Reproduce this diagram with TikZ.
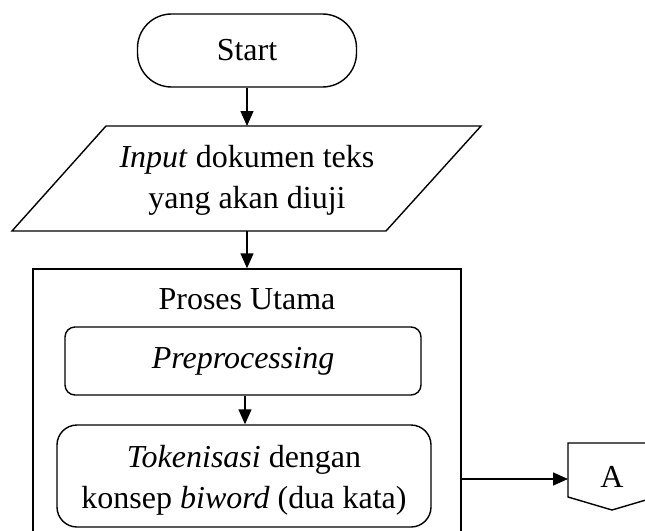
\documentclass[tikz,border=0pt]{standalone}
\usepackage{fontspec}
\setmainfont{Liberation Serif}
\usetikzlibrary{arrows.meta}
\begin{document}
\begin{tikzpicture}[x=1pt,y=-1pt,
  line/.style={line width=1.4pt,line join=miter},
  arr/.style={line width=1.4pt,-{Triangle[length=15pt,width=13pt]}},
  txt/.style={font=\fontsize{32}{41}\selectfont,align=center,inner sep=0pt},
  terminal/.style={draw,line width=1.4pt,minimum width=219pt,minimum height=73pt,rounded corners=34pt,inner sep=0pt},
  procbox/.style={draw,line width=1.4pt,inner sep=0pt}]
\useasboundingbox (0,0) rectangle (645,530);
\clip (0,0) rectangle (645,530);
\fill[white] (0,0) rectangle (645,530);

% Start
\node[terminal,txt] (start) at (247,50.5) {Start};

% Input parallelogram
\draw[line] (106,126) -- (481,126) -- (386,231) -- (12,231) -- cycle;
\coordinate (inpT) at (247,126);
\coordinate (inpB) at (247,231);
\node[txt] (inp) at (247,180) {\textit{Input} dokumen teks\\yang akan diuji};

% Outer box
\node[procbox,minimum width=428pt,minimum height=276pt] (main) at (247,407) {};
\node[txt] (title) at (247,299) {Proses Utama};

% Preprocessing
\node[procbox,rounded corners=10pt,minimum width=356pt,minimum height=68pt] (prep) at (243,361) {};
\node[txt] (preptxt) at (243,361) {\textit{Preprocessing}};

% Tokenisasi
\node[procbox,rounded corners=20pt,minimum width=374pt,minimum height=102pt] (tok) at (244,476) {};
\node[txt] (toktxt) at (244,480) {\textit{Tokenisasi} dengan\\konsep \textit{biword} (dua kata)};

% Off-page connector A
\draw[line] (568,443) -- (656,443) -- (656,497) -- (612,510) -- (568,497) -- cycle;
\coordinate (conW) at (568,479);
\node[txt] (conA) at (612,477) {A};

% Connectors
\draw[arr] (start.south) -- (inpT);
\draw[arr] (inpB) -- (inpB |- main.north);
\draw[arr] (prep.south -| 245,0) -- (245,0 |- tok.north);
\draw[arr] (main.east |- conW) -- (conW);
\end{tikzpicture}
\end{document}
